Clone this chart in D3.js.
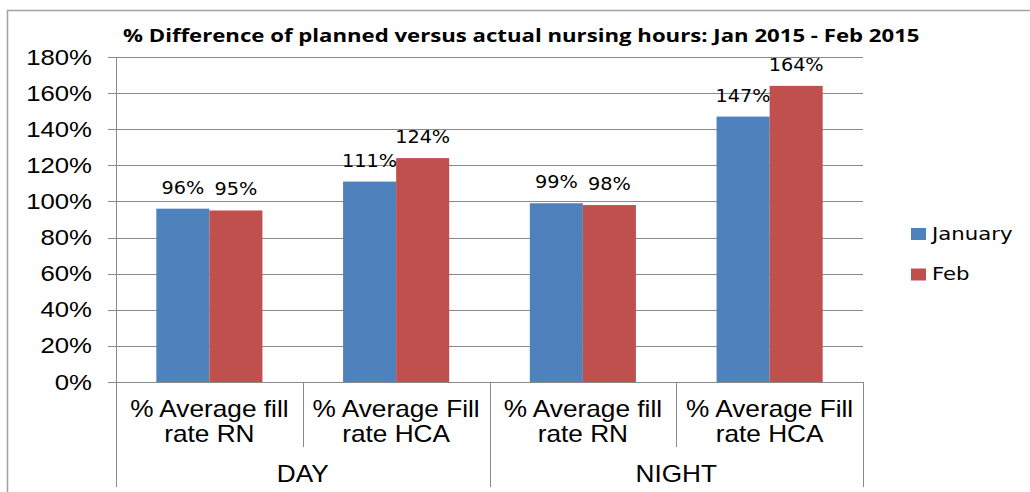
<!DOCTYPE html>
<html><head><meta charset="utf-8">
<script src="https://cdn.jsdelivr.net/npm/d3@7"></script>
<style>body{margin:0;background:#fff}svg{display:block}</style>
</head><body>
<svg id="c" width="1030" height="492"></svg>
<script>
const title = "% Difference of planned versus actual nursing hours: Jan 2015 - Feb 2015";
const categoryLines = [["% Average fill","rate RN"],["% Average Fill","rate HCA"],["% Average fill","rate RN"],["% Average Fill","rate HCA"]];
const groups = ["DAY","NIGHT"];
const seriesNames = ["January","Feb"];
const january = [96,111,99,147];
const feb = [95,124,98,164];
const yTicks = [0,20,40,60,80,100,120,140,160,180];
const colors = ["#4F81BD","#C0504D"];

const svg = d3.select("#c");
const gridCol = "#8a8a8a";
const x0 = 116, x1 = 863, yTop = 57, yBot = 382;
const y = d3.scaleLinear().domain([0,180]).range([yBot,yTop]);
const xc = d3.scaleBand().domain(d3.range(categoryLines.length)).range([x0,x1]).paddingInner(0).paddingOuter(0);
const xs = d3.scaleBand().domain(seriesNames).range([0,xc.bandwidth()]).paddingInner(0).paddingOuter(0.76);
const xg = d3.scaleBand().domain(groups).range([x0,x1]);

function txt(x,yy,s,o){
  const t = svg.append("text").attr("transform",`translate(${x},${yy}) scale(${o.sx||1},1)`)
    .attr("text-anchor",o.anchor||"middle").attr("font-family",o.family||"Liberation Sans, Arial, sans-serif")
    .attr("font-size",o.size).attr("font-weight",o.weight||"normal").attr("fill",o.fill||"#000").text(s);
  return t;
}

// outer border
svg.append("path").attr("d","M7.5,492 V10.5 H1030").attr("fill","none").attr("stroke","#a0a0a0").attr("stroke-width",1.5);

// title (fit to width)
const tt = txt(0,0,title,{size:17,weight:"bold",family:"Open Sans, sans-serif",anchor:"start"});
const tw = tt.node().getComputedTextLength();
const tsx = 797/tw;
tt.attr("transform",`translate(123,41.5) scale(${tsx},1)`);

// gridlines + ticks
const yAxis = svg.append("g");
yTicks.forEach(v=>{
  yAxis.append("line").attr("x1",108).attr("x2",x1).attr("y1",Math.round(y(v))+0.5).attr("y2",Math.round(y(v))+0.5)
    .attr("stroke",gridCol).attr("stroke-width",1);
  txt(92,y(v)+7.5,v+"%",{size:22,sx:1.17,anchor:"end"});
});

// bars
const data = [january,feb];
data.forEach((arr,si)=>{
  svg.append("g").selectAll("rect").data(arr).join("rect")
    .attr("x",(d,i)=>xc(i)+xs(seriesNames[si]))
    .attr("width",xs.bandwidth())
    .attr("y",d=>y(d)).attr("height",d=>y(0)-y(d))
    .attr("fill",colors[si]);
  arr.forEach((d,i)=>{
    txt(xc(i)+xs(seriesNames[si])+xs.bandwidth()/2, y(d)-15, d+"%",{size:18,sx:1.07,family:"DejaVu Sans, sans-serif"});
  });
});

// axis line at 0
svg.append("line").attr("x1",108).attr("x2",x1).attr("y1",yBot+0.5).attr("y2",yBot+0.5).attr("stroke",gridCol);
// y axis line
svg.append("line").attr("x1",x0+0.5).attr("x2",x0+0.5).attr("y1",yTop).attr("y2",487).attr("stroke",gridCol);

// category separators
d3.range(1,categoryLines.length+1).forEach(i=>{
  const xx = i<categoryLines.length ? xc(i) : x1;
  const isGroupEdge = (i%2===0);
  svg.append("line").attr("x1",Math.round(xx)+0.5).attr("x2",Math.round(xx)+0.5).attr("y1",yBot).attr("y2",isGroupEdge?487:447)
    .attr("stroke",gridCol);
});

// category labels
categoryLines.forEach((lines,i)=>{
  const cx = xc(i)+xc.bandwidth()/2;
  lines.forEach((l,k)=>txt(cx,417+k*25,l,{size:23,sx:1.14}));
});
groups.forEach(g=>txt(xg(g)+xg.bandwidth()/2,482,g,{size:23,sx:1.14}));

// legend
seriesNames.forEach((n,i)=>{
  const ly = 228 + i*40.5;
  svg.append("rect").attr("x",911).attr("y",ly).attr("width",15).attr("height",12).attr("fill",colors[i]);
  txt(932,ly+11.5,n,{size:17,sx:1.25,family:"DejaVu Sans, sans-serif",anchor:"start"});
});
</script>
</body></html>
